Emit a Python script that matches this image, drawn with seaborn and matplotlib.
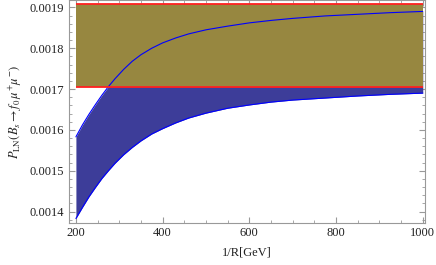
import matplotlib
matplotlib.use("Agg")
import matplotlib.pyplot as plt
import pandas as pd
import seaborn as sns
from matplotlib.ticker import MultipleLocator

# values
inv_r = [200, 215, 230, 245, 260, 275, 290, 310, 330, 350, 375, 400, 430, 460,
         500, 550, 600, 650, 700, 775, 850, 925, 1000]
p_low = [0.001383, 0.001410, 0.001436, 0.001459, 0.001481, 0.001500, 0.001518, 0.001539,
         0.001557, 0.001573, 0.001590, 0.001603, 0.001617, 0.001629, 0.001641, 0.001653,
         0.001661, 0.001668, 0.001673, 0.001678, 0.001683, 0.001687, 0.001690]
p_high = [0.001583, 0.001612, 0.001638, 0.001662, 0.001685, 0.001706, 0.001725, 0.001748,
          0.001768, 0.001784, 0.001800, 0.001813, 0.001825, 0.001835, 0.001845, 0.001854,
          0.001862, 0.001868, 0.001873, 0.001879, 0.001883, 0.001887, 0.001890]
band_low = 0.001706
band_high = 0.001907

df = pd.DataFrame({"x": inv_r, "low": p_low, "high": p_high})

sns.set_style("ticks")
plt.rcParams["font.family"] = ["Liberation Serif", "DejaVu Serif"]
plt.rcParams["mathtext.fontset"] = "stix"

fig = plt.figure(figsize=(4.36, 2.65), dpi=100)
ax = fig.add_axes([0.158, 0.16, 0.817, 0.84])

ax.fill_between(df["x"], df["low"], df["high"], color="#3d3d99", lw=0, zorder=1)
ax.fill_between([inv_r[0], inv_r[-1]], band_low, band_high, color="#978740", lw=0, zorder=2)
sns.lineplot(data=df, x="x", y="high", color="#0000ff", lw=0.8, ax=ax, zorder=3)
sns.lineplot(data=df, x="x", y="low", color="#0000ff", lw=0.8, ax=ax, zorder=3)
ax.hlines([band_low, band_high], inv_r[0], inv_r[-1], color="#ff2020", lw=1.3, zorder=4)

ax.set_xlim(183.8, 1005.4)
ax.set_ylim(0.001373, 0.001918)
ax.xaxis.set_major_locator(MultipleLocator(200))
ax.xaxis.set_minor_locator(MultipleLocator(50))
ax.yaxis.set_major_locator(MultipleLocator(0.0001))
ax.yaxis.set_minor_locator(MultipleLocator(0.00002))
ax.yaxis.set_major_formatter(plt.FuncFormatter(lambda v, p: f"{v:.4f}"))
ax.tick_params(which="both", direction="in", top=True, right=True, color="#999999",
               labelsize=9, labelcolor="#222222")
ax.tick_params(which="major", length=4)
ax.tick_params(which="minor", length=2)
for s in ax.spines.values():
    s.set_color("#999999")
    s.set_linewidth(0.8)

ax.set_xlabel("1/R[GeV]", fontsize=9, color="#222222", labelpad=5)
ax.set_ylabel(r"$P_{\rm LN}(B_s\to f_0\,\mu^{+}\mu^{-})$", fontsize=9, color="#222222", labelpad=4)

plt.savefig("out.png", dpi=100)
